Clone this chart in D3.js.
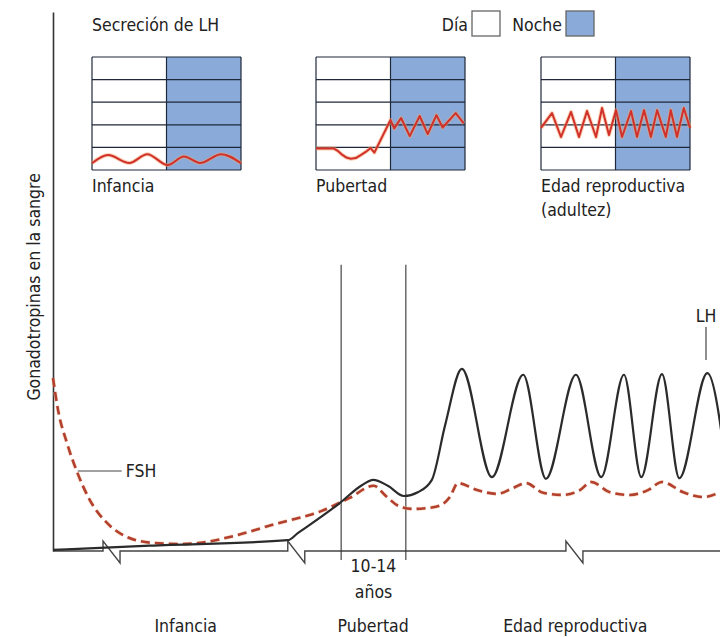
<!DOCTYPE html>
<html>
<head>
<meta charset="utf-8">
<script src="https://cdn.jsdelivr.net/npm/d3@7"></script>
<style>
  body { margin: 0; background: #fff; }
  text { font-family: "Liberation Sans Narrow", "DejaVu Sans Condensed", sans-serif; fill: #222; font-size: 17.5px; }
</style>
</head>
<body>
<div id="chart"></div>
<script>
/**
 * CONSTANTS AND GLOBALS
 * */
const width = 720,
  height = 637;

/**
 * DATA
 * main chart: x = time (0-100), y = level (0-100)
 * */
const lhSeries = [
  [0, 0.2], [14.5, 1.0], [35.2, 2.0], [36.7, 3.3], [43.0, 8.9], [46.3, 12.2],
  [48.0, 13.2], [50.2, 12.1], [52.6, 10.2], [54.7, 10.9], [56.8, 13.2],
  [58.8, 23.4], [61.3, 33.8], [65.8, 13.7], [70.5, 32.7], [73.9, 13.4],
  [78.4, 32.7], [82.2, 13.7], [85.6, 32.7], [88.2, 13.7], [91.3, 32.8],
  [93.9, 13.5], [98.1, 33.0], [101.1, 13.7]
];

const fshSeries = [
  [0, 32.1], [0.75, 26.2], [2.1, 20.0], [3.6, 14.7], [5.5, 9.5], [8.1, 5.2],
  [11.1, 2.6], [15.0, 1.5], [19.0, 1.3], [22.0, 1.5], [26.5, 2.6], [33.3, 5.0],
  [40.2, 7.4], [44.4, 9.8], [48.1, 12.1], [49.9, 10.2], [51.9, 8.3], [54.0, 7.8],
  [57.4, 8.2], [59.5, 10.0], [60.7, 12.6], [63.6, 11.3], [66.6, 10.6], [69.0, 11.7],
  [70.9, 12.6], [73.5, 10.8], [76.5, 10.4], [79.0, 11.3], [80.7, 12.8], [83.5, 10.9],
  [86.5, 10.4], [89.2, 11.3], [91.3, 12.8], [94.5, 10.9], [97.5, 10.0], [100, 10.9]
];

const axisBreaks = [7.5, 35.2, 76.9];
const pubertyBounds = [43.2, 52.9];
const pubertyTop = 53.1;
const phaseLabels = ["Infancia", "Pubertad", "Edad reproductiva"];
const phaseCenters = [19.9, 48.0, 78.3];

// insets: x = hours (0-24, day then night), y = level (0-5 grid rows)
const infanciaLH = [
  [0, 0.3], [2.6, 0.66], [6, 0.31], [8.9, 0.7], [12.2, 0.22],
  [14.8, 0.6], [17.4, 0.31], [20.8, 0.7], [24, 0.3]
];
const pubertadLH = [
  [0, 0.95], [2.9, 0.95], [3.5, 0.85], [4.2, 0.68], [4.9, 0.55], [5.6, 0.5],
  [6.4, 0.53], [7.2, 0.66], [8.0, 0.8], [8.8, 0.97], [9.4, 0.77], [12, 2.21],
  [12.6, 1.84], [13.7, 2.3], [15.1, 1.5], [16.7, 2.39], [18, 1.59], [19.4, 2.43],
  [20.4, 1.88], [22.5, 2.52], [23.8, 2.06]
];
const edadLH = [
  [0, 1.86], [1.77, 2.52], [3.22, 1.46], [4.83, 2.57], [6.12, 1.46], [7.41, 2.61],
  [8.86, 1.46], [9.83, 2.74], [10.95, 1.55], [12.08, 2.65], [13.05, 1.46],
  [14.5, 2.61], [15.46, 1.46], [16.6, 2.65], [17.7, 1.46], [18.7, 2.65],
  [20.1, 1.46], [20.9, 2.65], [21.9, 1.46], [23.0, 2.74], [24, 1.86]
];
const insetRows = [0, 1, 2, 3, 4, 5];
const insetNames = [["Infancia"], ["Pubertad"], ["Edad reproductiva", "(adultez)"]];
const legendItems = ["Día", "Noche"];

/**
 * DRAW
 * */
const svg = d3.select("#chart")
  .append("svg")
  .attr("width", width)
  .attr("height", height);

const x = d3.scaleLinear().domain([0, 100]).range([53, 720]);
const y = d3.scaleLinear().domain([0, 100]).range([551, 12]);

// y axis (no ticks)
svg.append("g")
  .attr("transform", `translate(${x(0)},0)`)
  .call(d3.axisLeft(y).tickValues([]).tickSizeOuter(0))
  .select(".domain")
  .attr("stroke", "#333")
  .attr("stroke-width", 1.6);

svg.append("text")
  .attr("transform", `translate(40,${y(49)}) rotate(-90)`)
  .attr("text-anchor", "middle")
  .text("Gonadotropinas en la sangre");

// baseline with break marks
const b0 = y(0);
let base = `M${x(0)},${b0}`;
axisBreaks.forEach(b => {
  const bx = x(b);
  base += `H${bx}V${b0 - 10}L${bx + 17},${b0 + 12}V${b0}`;
});
base += `H${x(100)}`;
svg.append("path")
  .attr("d", base)
  .attr("fill", "none")
  .attr("stroke", "#444")
  .attr("stroke-width", 1.4)
  .attr("stroke-linejoin", "miter");

// puberty boundaries
svg.selectAll(".bound")
  .data(pubertyBounds)
  .join("line")
  .attr("class", "bound")
  .attr("x1", d => x(d)).attr("x2", d => x(d))
  .attr("y1", y(pubertyTop)).attr("y2", b0 + 9)
  .attr("stroke", "#333")
  .attr("stroke-width", 1.1);

const line = d3.line()
  .x(d => x(d[0]))
  .y(d => y(d[1]))
  .curve(d3.curveMonotoneX);

// FSH dashed
svg.append("path")
  .attr("d", line(fshSeries))
  .attr("fill", "none")
  .attr("stroke", "#f3c6a0")
  .attr("stroke-width", 4)
  .attr("stroke-dasharray", "9,5")
  .attr("opacity", 0.5);
svg.append("path")
  .attr("d", line(fshSeries))
  .attr("fill", "none")
  .attr("stroke", "#b3402f")
  .attr("stroke-width", 2.6)
  .attr("stroke-dasharray", "9,5");

// LH solid
svg.append("path")
  .attr("d", line(lhSeries))
  .attr("fill", "none")
  .attr("stroke", "#2b2b2b")
  .attr("stroke-width", 2.2);

// annotations
svg.append("line")
  .attr("x1", x(3.7)).attr("x2", x(10.3))
  .attr("y1", 471).attr("y2", 471)
  .attr("stroke", "#444").attr("stroke-width", 1.2);
svg.append("text").attr("x", x(10.9)).attr("y", 477).text("FSH");

svg.append("line")
  .attr("x1", 706).attr("x2", 706)
  .attr("y1", 327).attr("y2", 360)
  .attr("stroke", "#444").attr("stroke-width", 1.2);
svg.append("text").attr("x", 706).attr("y", 322).attr("text-anchor", "middle").text("LH");

// bottom labels
const midPub = x(d3.mean(pubertyBounds));
svg.append("text").attr("x", midPub).attr("y", 572).attr("text-anchor", "middle").text("10-14");
svg.append("text").attr("x", midPub).attr("y", 598).attr("text-anchor", "middle").text("años");
svg.selectAll(".phase")
  .data(phaseLabels)
  .join("text")
  .attr("class", "phase")
  .attr("x", (d, i) => x(phaseCenters[i]))
  .attr("y", 632)
  .attr("text-anchor", "middle")
  .text(d => d);

/**
 * INSETS
 * */
const nightFill = "#8aabda",
  gridColor = "#1f2838";

svg.append("text").attr("x", 92).attr("y", 31).text("Secreción de LH");

// legend
svg.append("text").attr("x", 468).attr("y", 31).attr("text-anchor", "end").text(legendItems[0]);
svg.append("rect").attr("x", 472).attr("y", 11).attr("width", 28).attr("height", 25)
  .attr("fill", "#fff").attr("stroke", "#666").attr("stroke-width", 1.3);
svg.append("text").attr("x", 562).attr("y", 31).attr("text-anchor", "end").text(legendItems[1]);
svg.append("rect").attr("x", 566).attr("y", 11).attr("width", 28).attr("height", 25)
  .attr("fill", nightFill).attr("stroke", "#666").attr("stroke-width", 1.3);

const insets = [
  { x0: 92, data: infanciaLH, curve: d3.curveMonotoneX },
  { x0: 316, data: pubertadLH, curve: d3.curveLinear },
  { x0: 541, data: edadLH, curve: d3.curveLinear }
];

insets.forEach((inset, i) => {
  const ix = d3.scaleLinear().domain([0, 24]).range([inset.x0, inset.x0 + 149]);
  const iy = d3.scaleLinear().domain([0, 5]).range([170, 57]);
  const g = svg.append("g");

  g.append("rect")
    .attr("x", ix(12)).attr("y", iy(5))
    .attr("width", ix(24) - ix(12)).attr("height", iy(0) - iy(5))
    .attr("fill", nightFill);

  g.selectAll(".row")
    .data(insetRows)
    .join("line")
    .attr("x1", ix(0)).attr("x2", ix(24))
    .attr("y1", d => iy(d)).attr("y2", d => iy(d))
    .attr("stroke", gridColor).attr("stroke-width", 1.2);

  g.selectAll(".col")
    .data([0, 12, 24])
    .join("line")
    .attr("x1", d => ix(d)).attr("x2", d => ix(d))
    .attr("y1", iy(0)).attr("y2", iy(5))
    .attr("stroke", gridColor).attr("stroke-width", 1.2);

  const l = d3.line().x(d => ix(d[0])).y(d => iy(d[1])).curve(inset.curve);
  g.append("path").attr("d", l(inset.data))
    .attr("fill", "none").attr("stroke", "#f4a46a").attr("stroke-width", 4)
    .attr("stroke-linejoin", "round").attr("opacity", 0.5);
  g.append("path").attr("d", l(inset.data))
    .attr("fill", "none").attr("stroke", "#d2302a").attr("stroke-width", 2)
    .attr("stroke-linejoin", "round");

  insetNames[i].forEach((t, k) => {
    g.append("text").attr("x", inset.x0).attr("y", 192 + k * 24).text(t);
  });
});
</script>
</body>
</html>
